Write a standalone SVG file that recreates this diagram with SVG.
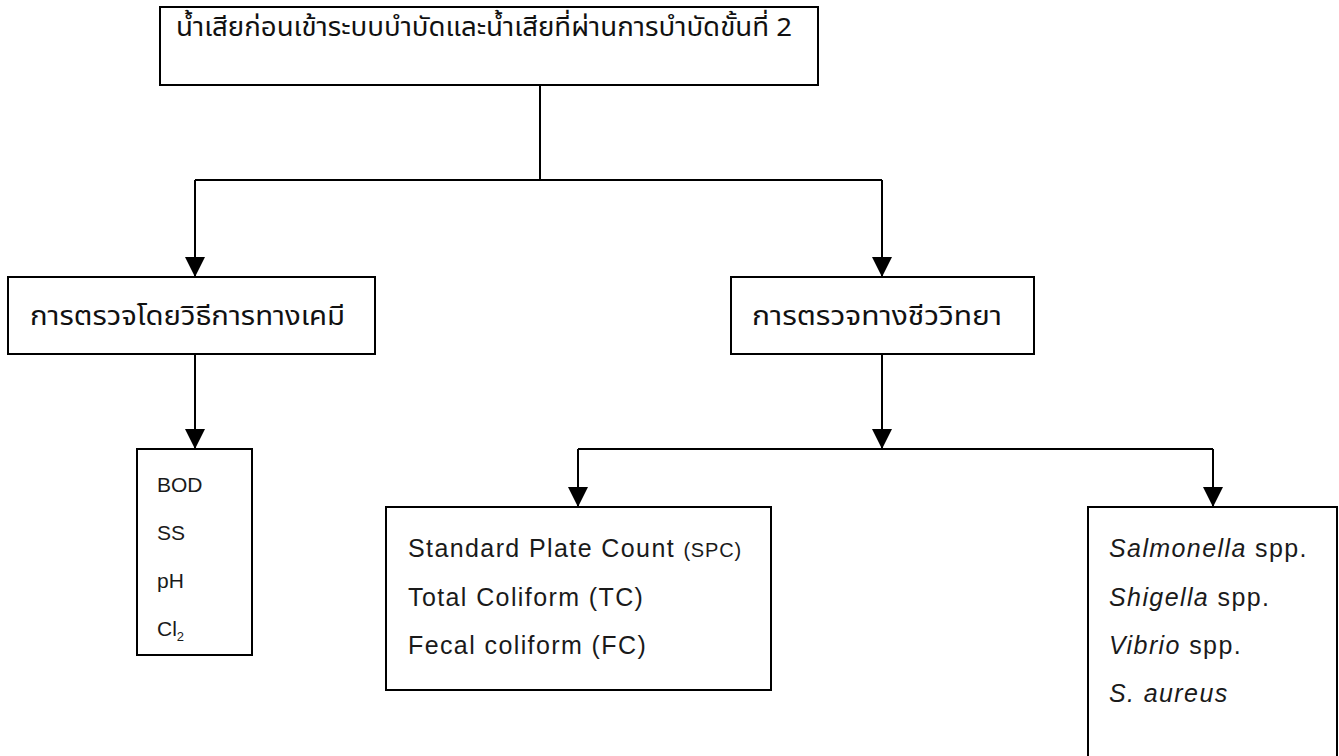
<svg xmlns="http://www.w3.org/2000/svg" width="1339" height="756" viewBox="0 0 1339 756">
<style>
.box{fill:#fff;stroke:#000;stroke-width:2}
.th{font-family:"Noto Sans Thai","Noto Sans","DejaVu Sans",sans-serif;font-size:26px;fill:#111}
.lt{font-family:"Liberation Sans",Arial,sans-serif;fill:#1a1a1a}
.c{fill:none;stroke:#000;stroke-width:2}
</style>
<defs>
<marker id="ah" markerUnits="userSpaceOnUse" markerWidth="20" markerHeight="20" viewBox="0 0 20 20" refX="20" refY="10" orient="auto">
<path d="M0,0 L20,10 L0,20 z" fill="#000"/>
</marker>
</defs>
<g id="connectors">
<path class="c" d="M540,85 V180"/>
<path class="c" d="M195,180 H882"/>
<path class="c" d="M195,180 V277" marker-end="url(#ah)"/>
<path class="c" d="M882,180 V277" marker-end="url(#ah)"/>
<path class="c" d="M195,354 V449" marker-end="url(#ah)"/>
<path class="c" d="M882,354 V449" marker-end="url(#ah)"/>
<path class="c" d="M578,449 H1213"/>
<path class="c" d="M578,449 V507" marker-end="url(#ah)"/>
<path class="c" d="M1213,449 V507" marker-end="url(#ah)"/>
</g>
<g id="top">
<rect class="box" x="160" y="7" width="658" height="78"/>
<text class="th" x="176" y="36" textLength="616" lengthAdjust="spacingAndGlyphs">น้ำเสียก่อนเข้าระบบบำบัดและน้ำเสียที่ผ่านการบำบัดขั้นที่ 2</text>
</g>
<g id="chem">
<rect class="box" x="8" y="277" width="367" height="77"/>
<text class="th" x="30" y="325" textLength="315" lengthAdjust="spacingAndGlyphs">การตรวจโดยวิธีการทางเคมี</text>
</g>
<g id="bio">
<rect class="box" x="731" y="277" width="303" height="77"/>
<text class="th" x="752" y="325" textLength="250" lengthAdjust="spacingAndGlyphs">การตรวจทางชีววิทยา</text>
</g>
<g id="chemlist">
<rect class="box" x="137" y="449" width="115" height="206"/>
<g class="lt" font-size="21">
<text x="157" y="492">BOD</text>
<text x="157" y="540">SS</text>
<text x="157" y="588">pH</text>
<text x="157" y="636">Cl<tspan font-size="13" dy="5">2</tspan></text>
</g>
</g>
<g id="indicators">
<rect class="box" x="386" y="507" width="385" height="183"/>
<g class="lt" font-size="25" letter-spacing="1.4">
<text x="408" y="557">Standard Plate Count <tspan font-size="20" letter-spacing="0.8">(SPC)</tspan></text>
<text x="408" y="606">Total Coliform (TC)</text>
<text x="408" y="654">Fecal coliform (FC)</text>
</g>
</g>
<g id="pathogens">
<rect class="box" x="1088" y="507" width="249" height="260"/>
<g class="lt" font-size="25" letter-spacing="1.4">
<text x="1109" y="557"><tspan font-style="italic">Salmonella</tspan> spp.</text>
<text x="1109" y="606"><tspan font-style="italic">Shigella</tspan> spp.</text>
<text x="1109" y="654"><tspan font-style="italic">Vibrio</tspan> spp.</text>
<text x="1109" y="702" font-style="italic">S. aureus</text>
</g>
</g>
</svg>
